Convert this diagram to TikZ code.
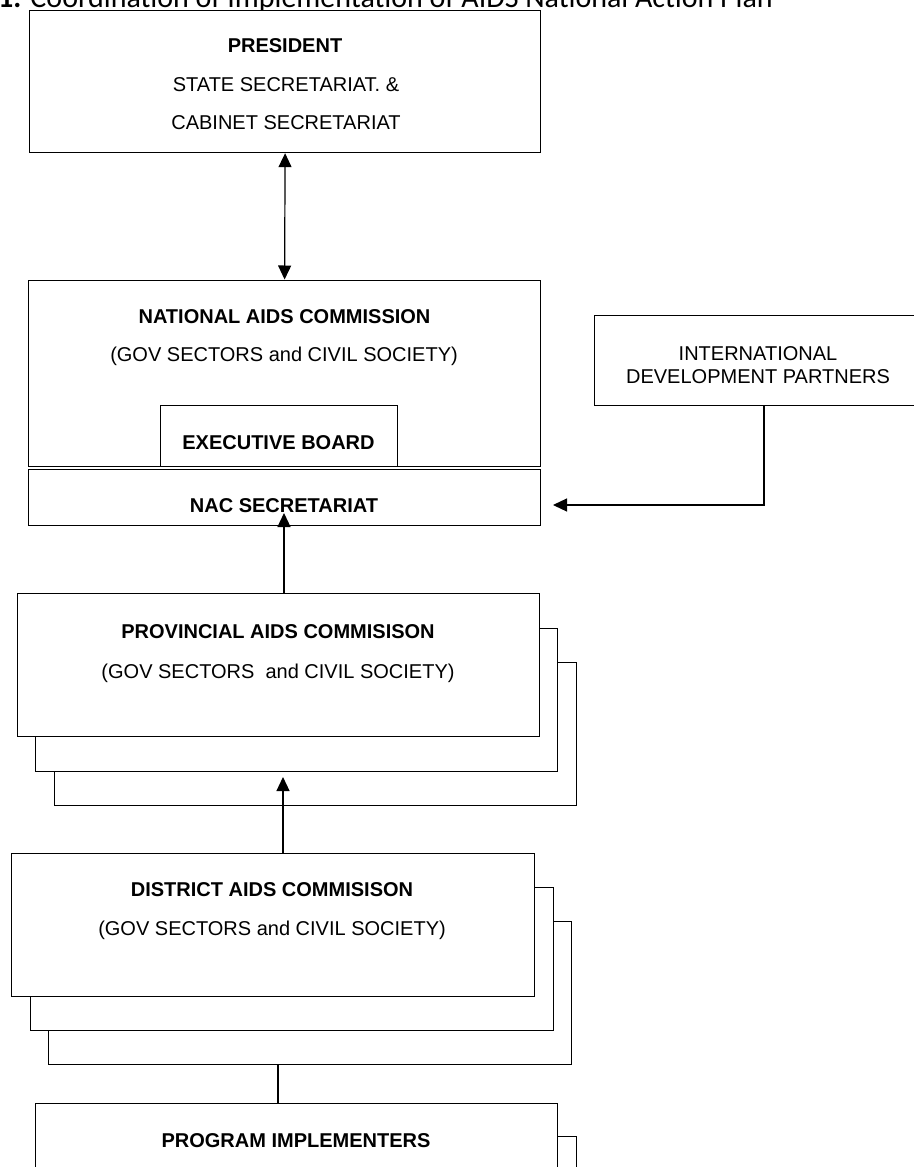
\documentclass[tikz,border=0pt]{standalone}
\usepackage{fontspec}
\setmainfont{Liberation Sans}
\newfontfamily\titlefont{Carlito}
\usetikzlibrary{arrows.meta}
\begin{document}
\begin{tikzpicture}[x=1pt,y=-1pt]
        \tikzset{box/.style={draw=black, fill=white, line width=1.2pt, inner sep=0pt, anchor=north west},
                 lbl/.style={anchor=base, inner sep=0pt, font=\fontsize{20}{24}\selectfont},
                 lblb/.style={anchor=base, inner sep=0pt, font=\fontsize{20}{24}\selectfont\bfseries},
                 link/.style={line width=1.2pt},
                 >={Triangle[length=14pt,width=13pt]}}
        \useasboundingbox (0,0) rectangle (913,1167);
        \node[anchor=base west, inner sep=0pt, font=\titlefont\fontsize{30}{36}\selectfont] (title) at (-2,8) {\textbf{1.} Coordination of Implementation of AIDS National Action Plan};
        % top levels
        \node[box, minimum width=511pt, minimum height=142.5pt] (pres) at (29,9.5) {};
        \node[box, minimum width=512pt, minimum height=186.5pt] (nac) at (28,279.5) {};
        \node[box, minimum width=237pt, minimum height=61pt] (exec) at (160,405) {};
        \node[box, minimum width=512pt, minimum height=56.5pt] (nacsec) at (28,468.5) {};
        \node[box, minimum width=328pt, minimum height=90pt] (idp) at (594,315) {};
        % stacked commissions
        \foreach \k in {2,1,0}
          \node[box, minimum width=522pt, minimum height=143pt] (prov\k) at (16.5+18.7*\k, 593+34.5*\k) {};
        \foreach \k in {2,1,0}
          \node[box, minimum width=523pt, minimum height=143pt] (dist\k) at (11+18.5*\k, 853+34*\k) {};
        \foreach \k in {1,0}
          \node[box, minimum width=522pt, minimum height=143pt] (prog\k) at (35+19*\k, 1103+33*\k) {};
        % texts
        \node[lblb] (prestop) at (285,52) {PRESIDENT};
        \node[lbl] (presmid) at (286,91) {STATE SECRETARIAT. \&};
        \node[lbl] (presbot) at (286,129) {CABINET SECRETARIAT};
        \node[lblb] (nactop) at (284.5,323) {NATIONAL AIDS COMMISSION};
        \node[lbl] (nacmid) at (284,361) {(GOV SECTORS and CIVIL SOCIETY)};
        \node[lblb] (exectxt) at (278.5,449) {EXECUTIVE BOARD};
        \node[lblb] (sectxt) at (284,512) {NAC SECRETARIAT};
        \node[lbl] (idptop) at (758,360) {INTERNATIONAL};
        \node[lbl] (idpbot) at (758,383) {DEVELOPMENT PARTNERS};
        \node[lblb] (provtop) at (278,638) {PROVINCIAL AIDS COMMISISON};
        \node[lbl] (provmid) at (278,678) {(GOV SECTORS\ \ and CIVIL SOCIETY)};
        \node[lblb] (disttop) at (272,896) {DISTRICT AIDS COMMISISON};
        \node[lbl] (distmid) at (272,935) {(GOV SECTORS and CIVIL SOCIETY)};
        \node[lblb] (progtop) at (296,1147) {PROGRAM IMPLEMENTERS};
        % connectors
        \coordinate (sectip) at (284,513);
        \coordinate (provtip) at (283,777);
        \coordinate (proglink) at (278,1064);
        \coordinate (idpdrop) at (764,405);
        \coordinate (idptip) at (553,505);
        \draw[link,<->] (pres.south) -- (nac.north);
        \draw[link,->] (prov0.north -| sectip) -- (sectip);
        \draw[link,->] (dist0.north -| provtip) -- (provtip);
        \draw[link] (proglink) -- (prog0.north -| proglink);
        \draw[link,->] (idpdrop) |- (idptip);
      \end{tikzpicture}
\end{document}
